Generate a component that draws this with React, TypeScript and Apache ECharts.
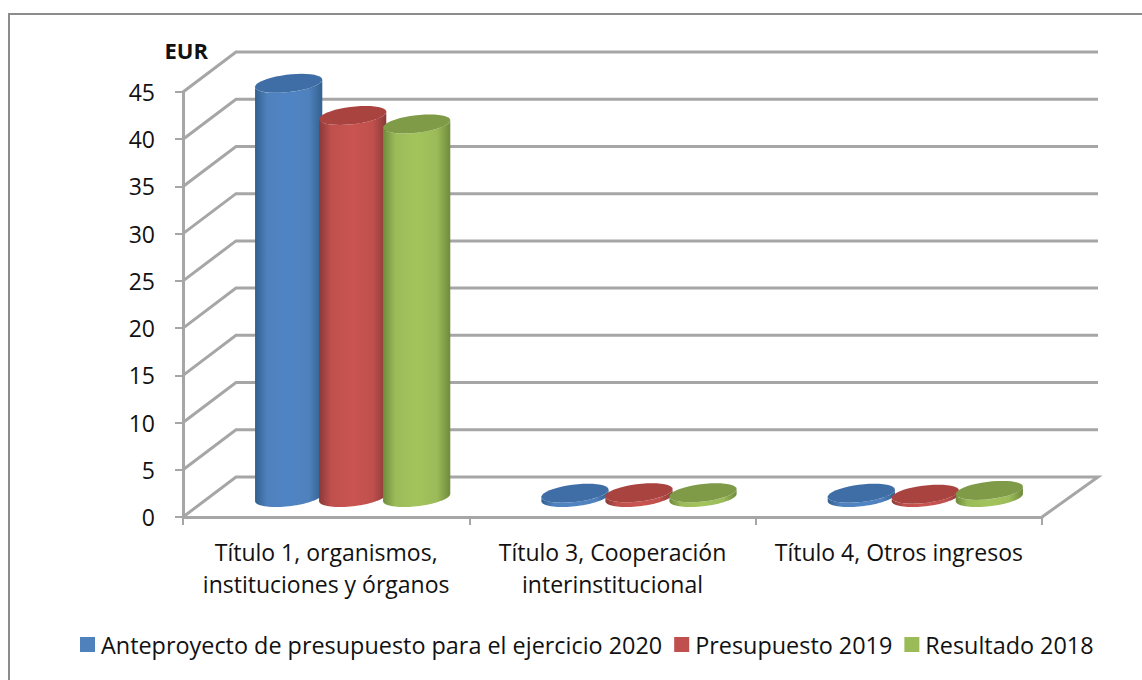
import React, { useEffect, useRef } from "react";
import * as echarts from "echarts";

const categories = [
  "Título 1, organismos,\ninstituciones y órganos",
  "Título 3, Cooperación\ninterinstitucional",
  "Título 4, Otros ingresos",
];
const seriesNames = [
  "Anteproyecto de presupuesto para el ejercicio 2020",
  "Presupuesto 2019",
  "Resultado 2018",
];
const anteproyecto = [43.8, 0.4, 0.4];
const presupuesto = [40.4, 0.45, 0.3];
const resultado = [39.5, 0.45, 0.7];
const yTicks = [0, 5, 10, 15, 20, 25, 30, 35, 40, 45];

const legendColors = ["#4f81bd", "#c0504d", "#9bbb59"];
const edgeColors = ["#32608f", "#8a3a38", "#6f8b3c"];
const lightColors = ["#4f84c4", "#c95450", "#a3c45c"];
const topColors = ["#3f6ea6", "#a84340", "#7f9b48"];

const FONT = '"Open Sans", sans-serif';
const GRID_COLOR = "#a6a6a6";
const DEPTH_X = 53;
const DEPTH_Y = -40;
const SPACING = 64;
const R = 31;
const DX = 13;
const DY = -9.5;

function ring(cx: number, cy: number, from: number, to: number) {
  const pts: number[][] = [];
  const n = 40;
  for (let i = 0; i <= n; i++) {
    const t = from + ((to - from) * i) / n;
    pts.push([cx + R * Math.cos(t) + DX * Math.sin(t), cy + DY * Math.sin(t)]);
  }
  return pts;
}

function cylinderRenderer(idx: number) {
  return (_params: any, api: any) => {
    const cat = api.value(0);
    const val = api.value(1);
    const top = api.coord([cat, val]);
    const base = api.coord([cat, 0]);
    const cx = top[0] + DEPTH_X / 2 + (idx - 1) * SPACING;
    const topY = top[1] + DEPTH_Y / 2;
    const baseY = base[1] + DEPTH_Y / 2 + 0.5;
    const t0 = Math.atan2(DX, R);
    const body = [
      ...ring(cx, baseY, t0, t0 - Math.PI),
      ...ring(cx, topY, t0 - Math.PI, t0),
    ];
    const gradient = new echarts.graphic.LinearGradient(0, 0, 1, 0, [
      { offset: 0, color: edgeColors[idx] },
      { offset: 0.18, color: legendColors[idx] },
      { offset: 0.5, color: lightColors[idx] },
      { offset: 0.8, color: legendColors[idx] },
      { offset: 1, color: edgeColors[idx] },
    ]);
    return {
      type: "group",
      children: [
        { type: "polygon", shape: { points: body }, style: { fill: gradient } },
        {
          type: "polygon",
          shape: { points: ring(cx, topY, 0, Math.PI * 2) },
          style: { fill: topColors[idx] },
        },
      ],
    };
  };
}

function gridRenderer(params: any, api: any) {
  const y = api.coord([0, api.value(1)])[1];
  const cs = params.coordSys;
  const left = cs.x;
  const right = cs.x + cs.width;
  const isZero = api.value(1) === 0;
  const pts = [
    [left, y],
    [left + DEPTH_X, y + DEPTH_Y],
    [right + DEPTH_X + 3, y + DEPTH_Y],
  ];
  if (isZero) pts.push([right, y]);
  return {
    type: "polyline",
    shape: { points: pts },
    style: { stroke: GRID_COLOR, lineWidth: 3, fill: "none" },
  };
}

export default function App() {
  const ref = useRef<HTMLDivElement>(null);
  useEffect(() => {
    const chart = echarts.init(ref.current!, undefined, { renderer: "svg" });
    const values = [anteproyecto, presupuesto, resultado];
    chart.setOption({
      animation: false,
      backgroundColor: "#ffffff",
      graphic: [
        {
          type: "rect",
          silent: true,
          z: -10,
          shape: { x: 9, y: 14, width: 1200, height: 700 },
          style: { fill: "#ffffff", stroke: "#8c8c8c", lineWidth: 2 },
        },
      ],
      grid: { left: 183, right: 100, top: 92, bottom: 163 },
      legend: {
        left: 75,
        top: 628,
        icon: "path://M0 0H10V10H0Z",
        itemWidth: 15,
        itemHeight: 15,
        itemGap: 12,
        itemStyle: { borderWidth: 0 },
        data: seriesNames,
        textStyle: {
          fontFamily: FONT,
          fontSize: 23.4,
          color: "#111111",
          padding: [0, 0, 0, 1],
        },
      },
      xAxis: {
        type: "category",
        data: categories,
        axisLine: { show: true, lineStyle: { color: GRID_COLOR, width: 3 } },
        axisTick: {
          show: true,
          interval: 0,
          alignWithLabel: false,
          length: 8,
          lineStyle: { color: GRID_COLOR, width: 2 },
        },
        axisLabel: {
          interval: 0,
          hideOverlap: false,
          fontFamily: FONT,
          fontSize: 23,
          color: "#111111",
          lineHeight: 32,
          margin: 19,
        },
      },
      yAxis: {
        type: "value",
        min: 0,
        max: 45,
        interval: 5,
        name: "EUR",
        nameLocation: "end",
        nameGap: 31,
        nameTextStyle: {
          fontFamily: FONT,
          fontSize: 22,
          fontWeight: "bold",
          color: "#111111",
          align: "right",
          padding: [0, -25, 0, 0],
        },
        axisLine: { show: true, lineStyle: { color: GRID_COLOR, width: 3 } },
        axisTick: { show: true, length: 8, lineStyle: { color: GRID_COLOR, width: 2 } },
        axisLabel: { fontFamily: FONT, fontSize: 23, color: "#111111", margin: 28 },
        splitLine: { show: false },
      },
      series: [
        {
          type: "custom",
          name: "rejilla",
          clip: false,
          silent: true,
          z: 1,
          data: yTicks.map((v) => [0, v]),
          renderItem: gridRenderer,
        },
        ...seriesNames.map((name, idx) => ({
          type: "custom",
          name,
          clip: false,
          z: 2 + idx,
          itemStyle: { color: legendColors[idx] },
          data: values[idx].map((v, i) => [i, v]),
          encode: { x: 0, y: 1 },
          renderItem: cylinderRenderer(idx),
        })),
      ],
    });
    return () => chart.dispose();
  }, []);
  return (
    <div
      ref={ref}
      style={{ position: "absolute", left: 0, top: 0, width: 1142, height: 680 }}
    />
  );
}
